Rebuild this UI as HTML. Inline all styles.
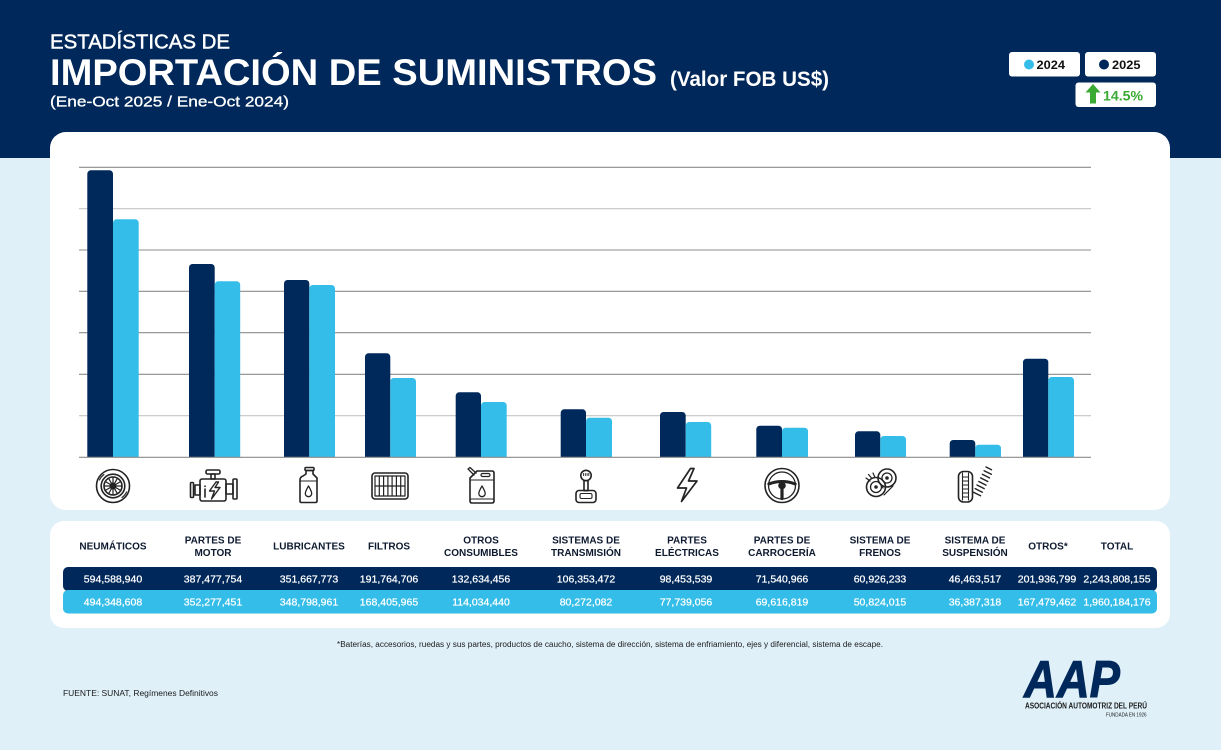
<!DOCTYPE html>
<html><head><meta charset="utf-8"><style>
html,body{margin:0;padding:0;background:#dff0f9;}
svg{display:block;font-family:"Liberation Sans",Arial,sans-serif;}
</style></head><body>
<svg width="1221" height="750" viewBox="0 0 1221 750" xmlns="http://www.w3.org/2000/svg">
<defs><clipPath id="cb"><rect x="0" y="0" width="1221" height="457.3"/></clipPath></defs>
<rect width="1221" height="750" fill="#dff0f9"/>
<rect width="1221" height="158" fill="#00285a"/>

<!-- Title -->
<text x="50" y="48.5" font-size="20" fill="#fff" stroke="#fff" stroke-width="0.45" textLength="180" lengthAdjust="spacingAndGlyphs">ESTADÍSTICAS DE</text>
<text x="50" y="85" font-size="37" font-weight="bold" fill="#fff" textLength="607" lengthAdjust="spacingAndGlyphs">IMPORTACIÓN DE SUMINISTROS</text>
<text x="670" y="86" font-size="21" font-weight="bold" fill="#fff" textLength="159" lengthAdjust="spacingAndGlyphs">(Valor FOB US$)</text>
<text x="50" y="106.5" font-size="14.5" fill="#fff" stroke="#fff" stroke-width="0.3" textLength="239" lengthAdjust="spacingAndGlyphs">(Ene-Oct 2025 / Ene-Oct 2024)</text>

<!-- Legend -->
<rect x="1009" y="52" width="71" height="24.5" rx="3" fill="#fff"/>
<circle cx="1029" cy="64.5" r="5" fill="#34bde8"/>
<text x="1036.5" y="69" font-size="12" font-weight="bold" fill="#111" textLength="28.5" lengthAdjust="spacingAndGlyphs">2024</text>
<rect x="1085" y="52" width="71" height="24.5" rx="3" fill="#fff"/>
<circle cx="1104" cy="64.5" r="5" fill="#00285a"/>
<text x="1112" y="69" font-size="12" font-weight="bold" fill="#111" textLength="28.5" lengthAdjust="spacingAndGlyphs">2025</text>
<rect x="1075.5" y="82.5" width="80.5" height="24.5" rx="3" fill="#fff"/>
<polygon points="1093,84 1100.5,92.5 1096,92.5 1096,103.5 1090,103.5 1090,92.5 1085.5,92.5" fill="#3aaa35"/>
<text x="1103" y="100.5" font-size="14" font-weight="bold" fill="#3aaa35" textLength="40" lengthAdjust="spacingAndGlyphs">14.5%</text>

<!-- Cards -->
<rect x="50" y="132" width="1120" height="378" rx="16" fill="#fff"/>
<rect x="50" y="521" width="1120" height="107" rx="14" fill="#fff"/>

<!-- Gridlines -->
<g stroke-width="1.1">
<line x1="79" x2="1091" y1="167.3" y2="167.3" stroke="#8c8c8c"/>
<line x1="79" x2="1091" y1="208.7" y2="208.7" stroke="#c4c4c4"/>
<line x1="79" x2="1091" y1="250" y2="250" stroke="#8c8c8c"/>
<line x1="79" x2="1091" y1="291.3" y2="291.3" stroke="#8c8c8c"/>
<line x1="79" x2="1091" y1="332.7" y2="332.7" stroke="#8c8c8c"/>
<line x1="79" x2="1091" y1="374.3" y2="374.3" stroke="#8c8c8c"/>
<line x1="79" x2="1091" y1="415.7" y2="415.7" stroke="#c4c4c4"/>
</g>

<!-- Bars -->
<g clip-path="url(#cb)">
<g fill="#00295b">
<rect x="87.3" y="170.3" width="25.7" height="295" rx="3.5"/>
<rect x="189" y="264" width="25.7" height="200" rx="3.5"/>
<rect x="284" y="280" width="25.3" height="190" rx="3.5"/>
<rect x="365" y="353.3" width="25.3" height="110" rx="3.5"/>
<rect x="455.7" y="392.3" width="25.3" height="70" rx="3.5"/>
<rect x="560.7" y="409.3" width="25.3" height="60" rx="3.5"/>
<rect x="660" y="412" width="25.7" height="60" rx="3.5"/>
<rect x="756.3" y="425.7" width="25.7" height="40" rx="3.5"/>
<rect x="855" y="431.3" width="25.3" height="40" rx="3.5"/>
<rect x="949.7" y="440" width="25.6" height="30" rx="3.5"/>
<rect x="1023" y="358.7" width="25.3" height="110" rx="3.5"/>
</g>
<g fill="#34bde8">
<rect x="113" y="219.3" width="25.7" height="250" rx="3.5"/>
<rect x="214.7" y="281.3" width="25.5" height="190" rx="3.5"/>
<rect x="309.3" y="285" width="25.7" height="190" rx="3.5"/>
<rect x="390.3" y="378" width="25.7" height="90" rx="3.5"/>
<rect x="481" y="402" width="25.7" height="70" rx="3.5"/>
<rect x="586" y="417.7" width="26" height="50" rx="3.5"/>
<rect x="685.7" y="422" width="25.5" height="50" rx="3.5"/>
<rect x="782" y="427.7" width="26" height="40" rx="3.5"/>
<rect x="880.3" y="436" width="25.7" height="30" rx="3.5"/>
<rect x="975.3" y="444.7" width="25.7" height="30" rx="3.5"/>
<rect x="1048.3" y="377" width="25.7" height="90" rx="3.5"/>
</g>
</g>
<line x1="79" x2="1091" y1="457.3" y2="457.3" stroke="#8c8c8c" stroke-width="1.2"/>

<!-- Icons -->
<g fill="none" stroke="#232323" stroke-width="1.6" stroke-linejoin="round" stroke-linecap="round">
<!-- Tire -->
<circle cx="113" cy="486" r="16.5"/>
<circle cx="113" cy="486" r="11.8"/>
<circle cx="113" cy="486" r="9"/>
<path d="M104,486 L122,486 M113,477 L113,495 M105.2,481.5 L120.8,490.5 M105.2,490.5 L120.8,481.5 M108.5,478.2 L117.5,493.8 M108.5,493.8 L117.5,478.2" stroke-width="1.2"/>
<path d="M99.5,480 A14.2 14.2 0 0 1 104,474.5 M126.5,492 A14.2 14.2 0 0 1 122,497.5" stroke-width="1.1"/>
<!-- Engine -->
<rect x="206" y="470" width="14" height="4" rx="1.5"/>
<rect x="211" y="474" width="4" height="5"/>
<rect x="200" y="479" width="26" height="22" rx="2"/>
<rect x="195" y="485" width="5" height="10"/>
<rect x="190.5" y="482.5" width="3" height="15" rx="1"/>
<rect x="226" y="484" width="7" height="10"/>
<rect x="233" y="479" width="4" height="20" rx="1"/>
<path d="M205,489 V497" />
<path d="M216,482 L209.5,491 L214.5,491 L211.5,499 L220,487.5 L215,487.5 L218.5,482 Z" stroke-width="1.4"/>
<!-- Oil bottle -->
<path d="M300,480 Q300,477 303,476 L306,474 V470.5 H313 V474 L317,478 V501 Q317,502.5 315.5,502.5 H301.5 Q300,502.5 300,501 Z"/>
<rect x="305" y="467.5" width="9" height="3" rx="1"/>
<path d="M300,481 H317" stroke-width="1.1"/>
<path d="M308.5,486 C306.5,489.5 305.3,491.5 305.3,493.5 A3.2 3.2 0 0 0 311.7,493.5 C311.7,491.5 310.5,489.5 308.5,486 Z" stroke-width="1.3"/>
<!-- Filter -->
<rect x="372" y="473" width="36" height="26" rx="3"/>
<rect x="375" y="476" width="30" height="20" stroke-width="1.2"/>
<path d="M375,486 H405 M379.3,476 V496 M383.6,476 V496 M387.9,476 V496 M392.1,476 V496 M396.4,476 V496 M400.7,476 V496" stroke-width="1.2"/>
<!-- Jerry can -->
<path d="M471,477 L477,471 H492 Q494,471 494,473 V501 Q494,503 492,503 H472 Q470,503 470,501 V478 Z"/>
<rect x="481" y="473.5" width="9" height="3" rx="1.5" stroke-width="1.2"/>
<path d="M474,475 L468,469 L470,467.5 L476,473" stroke-width="1.3"/>
<path d="M470,480 H494 M470,499 H494" stroke-width="1.1"/>
<path d="M482,486 C480,489.5 478.8,491.5 478.8,493.5 A3.2 3.2 0 0 0 485.2,493.5 C485.2,491.5 484,489.5 482,486 Z" stroke-width="1.3"/>
<!-- Joystick -->
<circle cx="586" cy="475.5" r="5.2"/>
<path d="M583.5,473.5 V475.5 M585.3,473.5 V475.5 M587.1,473.5 V475.5 M588.8,473.5 V475.5" stroke-width="0.9"/>
<rect x="584" y="480.7" width="4" height="10"/>
<rect x="576" y="490.5" width="20" height="12" rx="3"/>
<rect x="580" y="493.5" width="12" height="5" rx="1.5" stroke-width="1.1"/>
<!-- Lightning -->
<path d="M690.5,468.5 L677.5,488 L686.5,488 L681.5,501.5 L697,481 L688.5,481 L694,468.5 Z" stroke-width="1.7"/>
<!-- Steering wheel -->
<circle cx="782" cy="485.5" r="17"/>
<circle cx="782" cy="485.5" r="13.5" stroke-width="1.3"/>
<path d="M768.8,484 Q775,481.5 782,481.5 Q789,481.5 795.2,484" stroke-width="3"/>
<path d="M782,489 V498.5" stroke-width="3.2"/>
<!-- Brakes -->
<circle cx="876" cy="487" r="9.5"/>
<circle cx="876" cy="487" r="5.5" stroke-width="1.3"/>
<circle cx="887" cy="478" r="9"/>
<circle cx="887" cy="478" r="5" stroke-width="1.3"/>
<path d="M866,478 L870,481 M868.5,474.5 L872,478.5 M873,473 L875,477.5 M879,482 L883,488 M884,495 L893,486" stroke-width="1.2"/>
<!-- Suspension -->
<rect x="958.5" y="471.5" width="14" height="30.5" rx="5"/>
<path d="M962.5,473 V500 M968.5,473 V500 M962.5,477 H968.5 M962.5,481 H968.5 M962.5,485 H968.5 M962.5,489 H968.5 M962.5,493 H968.5 M962.5,497 H968.5" stroke-width="1.1"/>
<path d="M973.4,492.2 L980.6,495.8 M975.2,488.6 L982.4,492.2 M977,485 L984.2,488.6 M978.8,481.5 L986,485.1 M980.6,477.9 L987.8,481.5 M982.3,474.3 L989.5,477.9 M984.1,470.7 L991.3,474.3 M986,467 L991.5,469.8" stroke-width="1.4"/>
</g>
<g fill="#232323">
<circle cx="113" cy="486" r="3.5"/>
<circle cx="205" cy="486.3" r="0.9"/>
<circle cx="782" cy="485.5" r="3.8"/>
<circle cx="876" cy="487" r="1.8"/>
<circle cx="887" cy="478" r="1.8"/>
</g>

<!-- Table rows -->
<rect x="63" y="567" width="1094" height="24" rx="5" fill="#00285a"/>
<rect x="63" y="590" width="1094" height="23.5" rx="5" fill="#34bde8"/>

<!-- Table headers -->
<g font-size="10" font-weight="bold" fill="#0e1a30" text-anchor="middle">
<text x="113" y="549.5">NEUMÁTICOS</text>
<text x="213" y="543.5">PARTES DE</text><text x="213" y="556">MOTOR</text>
<text x="309" y="549.5">LUBRICANTES</text>
<text x="389" y="549.5">FILTROS</text>
<text x="481" y="543.5">OTROS</text><text x="481" y="556">CONSUMIBLES</text>
<text x="586" y="543.5">SISTEMAS DE</text><text x="586" y="556">TRANSMISIÓN</text>
<text x="687" y="543.5">PARTES</text><text x="687" y="556">ELÉCTRICAS</text>
<text x="782" y="543.5">PARTES DE</text><text x="782" y="556">CARROCERÍA</text>
<text x="880" y="543.5">SISTEMA DE</text><text x="880" y="556">FRENOS</text>
<text x="975" y="543.5">SISTEMA DE</text><text x="975" y="556">SUSPENSIÓN</text>
<text x="1048" y="549.5">OTROS*</text>
<text x="1117" y="549.5">TOTAL</text>
</g>

<!-- Table values -->
<g font-size="10.5" fill="#fff" stroke="#fff" stroke-width="0.25" text-anchor="middle">
<text x="113" y="582.5">594,588,940</text>
<text x="213" y="582.5">387,477,754</text>
<text x="309" y="582.5">351,667,773</text>
<text x="389" y="582.5">191,764,706</text>
<text x="481" y="582.5">132,634,456</text>
<text x="586" y="582.5">106,353,472</text>
<text x="686" y="582.5">98,453,539</text>
<text x="782" y="582.5">71,540,966</text>
<text x="880" y="582.5">60,926,233</text>
<text x="975" y="582.5">46,463,517</text>
<text x="1047" y="582.5">201,936,799</text>
<text x="1117" y="582.5">2,243,808,155</text>
<text x="113" y="605.5">494,348,608</text>
<text x="213" y="605.5">352,277,451</text>
<text x="309" y="605.5">348,798,961</text>
<text x="389" y="605.5">168,405,965</text>
<text x="481" y="605.5">114,034,440</text>
<text x="586" y="605.5">80,272,082</text>
<text x="686" y="605.5">77,739,056</text>
<text x="782" y="605.5">69,616,819</text>
<text x="880" y="605.5">50,824,015</text>
<text x="975" y="605.5">36,387,318</text>
<text x="1047" y="605.5">167,479,462</text>
<text x="1117" y="605.5">1,960,184,176</text>
</g>

<!-- Footnotes -->
<text x="337" y="647" font-size="8" fill="#1a1a1a" textLength="546" lengthAdjust="spacingAndGlyphs">*Baterías, accesorios, ruedas y sus partes, productos de caucho, sistema de dirección, sistema de enfriamiento, ejes y diferencial, sistema de escape.</text>
<text x="63" y="696" font-size="8" fill="#1a1a1a" textLength="155" lengthAdjust="spacingAndGlyphs">FUENTE: SUNAT, Regímenes Definitivos</text>

<!-- Logo -->
<text x="1024" y="697" font-size="52" font-weight="bold" font-style="italic" fill="#00285a" stroke="#00285a" stroke-width="1" textLength="96" lengthAdjust="spacingAndGlyphs">AAP</text>
<text x="1025" y="708.5" font-size="8" font-weight="bold" fill="#1a1a1a" textLength="122" lengthAdjust="spacingAndGlyphs">ASOCIACIÓN AUTOMOTRIZ DEL PERÚ</text>
<text x="1106" y="716.5" font-size="5.5" fill="#1a1a1a" textLength="40.5" lengthAdjust="spacingAndGlyphs">FUNDADA EN 1926</text>
</svg>
</body></html>
